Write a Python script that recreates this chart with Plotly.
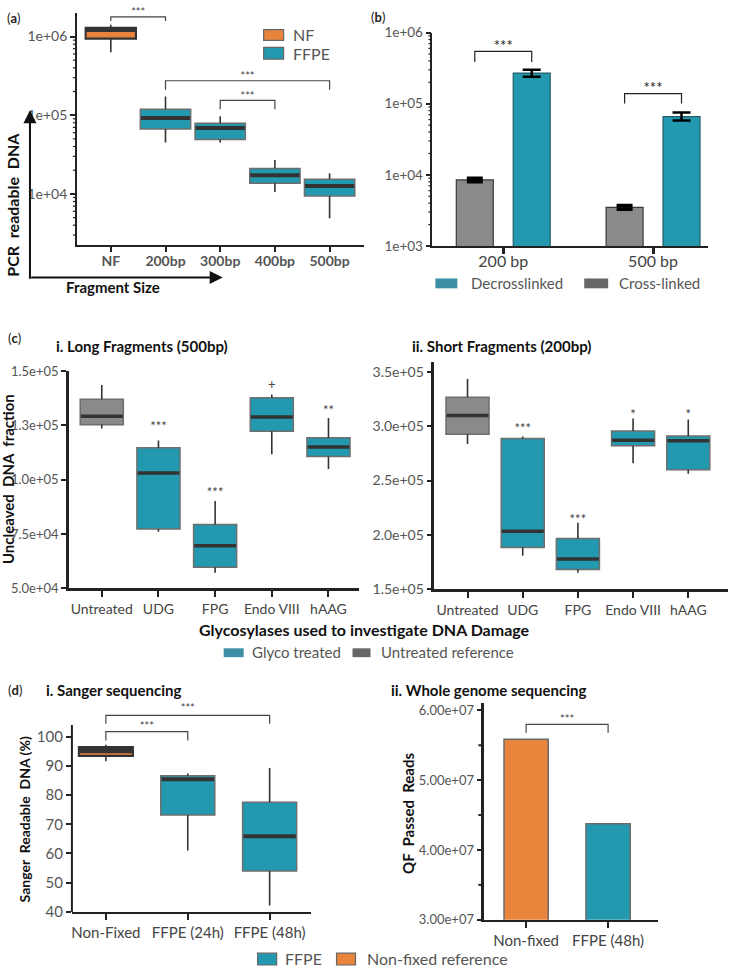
import math
import plotly.graph_objects as go

W, H = 730, 974


def X(p):
    return p / W


def Y(p):
    return 1 - p / H


FONT = "Lato"
TEAL = "#2399b0"
ORANGE = "#e8843c"
GREY = "#8a8a8a"
OUTLINE = "#6e6e6e"
DARK = "#333333"

# ---------------- (a) PCR readable DNA ----------------
a_categories = ["NF", "200bp", "300bp", "400bp", "500bp"]
a_group = ["NF", "FFPE", "FFPE", "FFPE", "FFPE"]
a_q1 = [9.4e5, 6.7e4, 4.9e4, 1.37e4, 9.4e3]
a_median = [1.21e6, 9.2e4, 6.9e4, 1.73e4, 1.26e4]
a_q3 = [1.29e6, 1.19e5, 7.9e4, 2.1e4, 1.54e4]
a_low = [6.3e5, 4.5e4, 4.5e4, 1.06e4, 4.9e3]
a_high = [1.41e6, 1.73e5, 9.7e4, 2.7e4, 1.83e4]
a_yticks = [1e4, 1e5, 1e6]
a_yticklabels = ["1e+04", "1e+05", "1e+06"]
a_sig_from = [0, 1, 2]
a_sig_to = [1, 4, 3]
a_sig_top = [1.78e6, 2.74e5, 1.54e5]
a_sig_foot = [1.58e6, 2.11e5, 1.19e5]
a_sig_text_y = [1.97e6, 3.0e5, 1.7e5]
a_sig_label = ["***", "***", "***"]

# ---------------- (b) cross-linked vs decrosslinked ----------------
b_categories = ["200 bp", "500 bp"]
b_crosslinked = [8.5e3, 3.5e3]
b_crosslinked_err = [500, 220]
b_decrosslinked = [2.7e5, 6.6e4]
b_decross_err_plus = [3.0e4, 9.0e3]
b_decross_err_minus = [3.0e4, 8.0e3]
b_yticks = [1e3, 1e4, 1e5, 1e6]
b_yticklabels = ["1e+03", "1e+04", "1e+05", "1e+06"]
b_sig_top = [5.46e5, 1.39e5]
b_sig_foot = [3.85e5, 1.01e5]
b_sig_text_y = [6.3e5, 1.62e5]
b_sig_label = ["***", "***"]

# ---------------- (c) glycosylases ----------------
c_categories = ["Untreated", "UDG", "FPG", "Endo VIII", "hAAG"]
c_group = ["Untreated", "Glyco", "Glyco", "Glyco", "Glyco"]
c1_q1 = [125300, 77300, 59700, 122300, 110600]
c1_median = [129100, 103000, 69550, 128800, 115000]
c1_q3 = [136950, 114700, 79400, 137700, 119250]
c1_low = [123500, 76000, 57150, 111700, 104900]
c1_high = [143500, 118000, 90150, 139200, 128300]
c1_sig = ["", "***", "***", "+", "**"]
c1_sig_y = [None, 124000, 93500, 143000, 131000]
c1_yticks = [5.0e4, 7.5e4, 1.0e5, 1.25e5, 1.5e5]
c1_yticklabels = ["5.0e+04", "7.5e+04", "1.0e+05", "1.3e+05", "1.5e+05"]

c2_q1 = [292650, 188500, 168200, 282100, 260050]
c2_median = [309850, 203500, 177900, 287200, 286600]
c2_q3 = [326700, 288700, 196650, 295650, 291100]
c2_low = [283600, 180900, 165200, 266050, 256400]
c2_high = [343400, 290500, 211100, 307150, 306250]
c2_sig = ["", "***", "***", "*", "*"]
c2_sig_y = [None, 297000, 213000, 310000, 310000]
c2_yticks = [1.5e5, 2.0e5, 2.5e5, 3.0e5, 3.5e5]
c2_yticklabels = ["1.5e+05", "2.0e+05", "2.5e+05", "3.0e+05", "3.5e+05"]

# ---------------- (d-i) Sanger ----------------
d1_categories = ["Non-Fixed", "FFPE (24h)", "FFPE (48h)"]
d1_group = ["Non-fixed", "FFPE", "FFPE"]
d1_q1 = [93.4, 73.2, 54.0]
d1_median = [95.3, 85.4, 65.9]
d1_q3 = [96.4, 86.6, 77.5]
d1_low = [91.6, 61.0, 42.2]
d1_high = [97.2, 87.4, 89.3]
d1_yticks = [40, 50, 60, 70, 80, 90, 100]
d1_sig_from = [0, 0]
d1_sig_to = [1, 2]
d1_sig_top = [101.7, 107.3]
d1_sig_foot = [98.65, 104.4]
d1_sig_text_y = [103.2, 109.3]
d1_sig_label = ["***", "***"]

# ---------------- (d-ii) WGS ----------------
d2_categories = ["Non-fixed", "FFPE (48h)"]
d2_group = ["Non-fixed", "FFPE"]
d2_reads = [5.587e7, 4.376e7]
d2_yticks = [3e7, 4e7, 5e7, 6e7]
d2_yticklabels = ["3.00e+07", "4.00e+07", "5.00e+07", "6.00e+07"]
d2_minor_ticks = [3.5e7, 4.5e7, 5.5e7]
d2_sig_from = [0]
d2_sig_to = [1]
d2_sig_top = [5.80e7]
d2_sig_foot = [5.68e7]
d2_sig_text_y = [5.86e7]
d2_sig_label = ["***"]

log_minor_ticks = [m * 10 ** e for e in range(3, 7) for m in range(2, 10)]

fill_of = {"NF": ORANGE, "Non-fixed": ORANGE, "FFPE": TEAL, "Glyco": TEAL, "Untreated": GREY}
outline_of = {"NF": DARK, "Non-fixed": DARK, "FFPE": OUTLINE, "Glyco": OUTLINE, "Untreated": OUTLINE}
median_w_of = {"NF": 4, "Non-fixed": 6, "FFPE": 4, "Glyco": 3.5, "Untreated": 3.5}

fig = go.Figure()


def add_boxes(xa, ya, groups, q1, med, q3, lo, hi, width, outline_w=1.5):
    wx, wy = [], []
    for i in range(len(q1)):
        wx += [i, i, None, i, i, None]
        wy += [lo[i], q1[i], None, q3[i], hi[i], None]
    fig.add_trace(go.Scatter(x=wx, y=wy, mode="lines", xaxis=xa, yaxis=ya,
                             line=dict(color=DARK, width=1.6), showlegend=False, hoverinfo="skip"))
    for i in range(len(q1)):
        g = groups[i]
        fig.add_trace(go.Box(x=[i], q1=[q1[i]], median=[med[i]], q3=[q3[i]],
                             lowerfence=[q1[i]], upperfence=[q3[i]], width=width,
                             xaxis=xa, yaxis=ya, fillcolor=fill_of[g],
                             line=dict(color=outline_of[g], width=outline_w + (0.6 if outline_of[g] == DARK else 0)),
                             whiskerwidth=0, boxpoints=False, showlegend=False, hoverinfo="skip"))
        fig.add_trace(go.Scatter(x=[i - width / 2 + 0.01, i + width / 2 - 0.01], y=[med[i], med[i]],
                                 mode="lines", xaxis=xa, yaxis=ya,
                                 line=dict(color=DARK, width=median_w_of[g]),
                                 showlegend=False, hoverinfo="skip"))


def add_brackets(xa, ya, x_from, x_to, top, foot, text_y, labels, size, color):
    bx, by = [], []
    for k in range(len(top)):
        bx += [x_from[k], x_from[k], x_to[k], x_to[k], None]
        by += [foot[k], top[k], top[k], foot[k], None]
    fig.add_trace(go.Scatter(x=bx, y=by, mode="lines", xaxis=xa, yaxis=ya,
                             line=dict(color=color, width=1.2), showlegend=False, hoverinfo="skip"))
    fig.add_trace(go.Scatter(x=[(x_from[k] + x_to[k]) / 2 for k in range(len(top))], y=text_y,
                             mode="text", text=labels, xaxis=xa, yaxis=ya, cliponaxis=False,
                             textfont=dict(family=FONT, size=size, color=color),
                             showlegend=False, hoverinfo="skip"))


# (a)
add_boxes("x", "y", a_group, a_q1, a_median, a_q3, a_low, a_high, 0.92)
add_brackets("x", "y", a_sig_from, a_sig_to, a_sig_top, a_sig_foot, a_sig_text_y, a_sig_label, 11, "#444")

# (b)
b_off, b_w = 0.19, 0.247
fig.add_trace(go.Bar(x=[i - b_off for i in range(len(b_categories))], y=b_crosslinked, width=b_w,
                     xaxis="x2", yaxis="y2", marker=dict(color=GREY, line=dict(color="#3a3a3a", width=1.2)),
                     error_y=dict(type="data", array=b_crosslinked_err, color="black", thickness=3.5, width=8),
                     showlegend=False, hoverinfo="skip"))
fig.add_trace(go.Bar(x=[i + b_off for i in range(len(b_categories))], y=b_decrosslinked, width=b_w,
                     xaxis="x2", yaxis="y2", marker=dict(color=TEAL, line=dict(color="#245c68", width=1.2)),
                     error_y=dict(type="data", array=b_decross_err_plus, arrayminus=b_decross_err_minus,
                                  color="black", thickness=2.5, width=9),
                     showlegend=False, hoverinfo="skip"))
add_brackets("x2", "y2", [i - b_off for i in range(2)], [i + b_off for i in range(2)],
             b_sig_top, b_sig_foot, b_sig_text_y, b_sig_label, 15, "#222")

# (c)
add_boxes("x3", "y3", c_group, c1_q1, c1_median, c1_q3, c1_low, c1_high, 0.76)
fig.add_trace(go.Scatter(x=[i for i in range(5) if c1_sig[i]], y=[c1_sig_y[i] for i in range(5) if c1_sig[i]],
                         text=[s for s in c1_sig if s], mode="text", xaxis="x3", yaxis="y3", cliponaxis=False,
                         textfont=dict(family=FONT, size=13, color="#444"), showlegend=False, hoverinfo="skip"))
add_boxes("x4", "y4", c_group, c2_q1, c2_median, c2_q3, c2_low, c2_high, 0.78)
fig.add_trace(go.Scatter(x=[i for i in range(5) if c2_sig[i]], y=[c2_sig_y[i] for i in range(5) if c2_sig[i]],
                         text=[s for s in c2_sig if s], mode="text", xaxis="x4", yaxis="y4", cliponaxis=False,
                         textfont=dict(family=FONT, size=13, color="#444"), showlegend=False, hoverinfo="skip"))

# (d-i)
add_boxes("x5", "y5", d1_group, d1_q1, d1_median, d1_q3, d1_low, d1_high, 0.66)
add_brackets("x5", "y5", d1_sig_from, d1_sig_to, d1_sig_top, d1_sig_foot, d1_sig_text_y, d1_sig_label, 11, "#444")

# (d-ii)
fig.add_trace(go.Bar(x=list(range(len(d2_reads))), y=d2_reads, width=0.54, xaxis="x6", yaxis="y6",
                     marker=dict(color=[fill_of[g] for g in d2_group], line=dict(color="#6a6a6a", width=1.5)),
                     showlegend=False, hoverinfo="skip"))
add_brackets("x6", "y6", d2_sig_from, d2_sig_to, d2_sig_top, d2_sig_foot, d2_sig_text_y, d2_sig_label, 11, "#444")


def xaxis(dom, rng, ticktext, anchor, tickfont, ticklen=5, tickwidth=1.5, linewidth=1.5, standoff=0):
    return dict(domain=[X(dom[0]), X(dom[1])], range=rng, anchor=anchor,
                tickmode="array", tickvals=list(range(len(ticktext))), ticktext=ticktext,
                showline=True, linecolor="#222", linewidth=linewidth, ticks="outside",
                ticklen=ticklen, tickwidth=tickwidth, tickcolor="#222", showgrid=False, zeroline=False,
                tickfont=tickfont, fixedrange=True, ticklabelstandoff=standoff)


def yaxis(dom, rng, tickvals, ticktext, anchor, tickfont, typ="linear",
          ticklen=5, tickwidth=1.5, linewidth=1.5, showline=True):
    return dict(domain=[Y(dom[1]), Y(dom[0])], range=rng, anchor=anchor, type=typ,
                tickmode="array", tickvals=tickvals, ticktext=ticktext,
                showline=showline, linecolor="#222", linewidth=linewidth, ticks="outside",
                ticklen=ticklen, tickwidth=tickwidth, tickcolor="#222", showgrid=False, zeroline=False,
                tickfont=tickfont, fixedrange=True)


f14 = dict(family=FONT, size=14, color="#555")
f13 = dict(family=FONT, size=13, color="#555")
A_RANGE, B_RANGE, D2_RANGE = [3.35, 6.3], [3, 6], [3e7, 6.1e7]
fig.update_layout(
    xaxis=xaxis((76, 363), [-0.62, 4.62], ["<b>%s</b>" % c for c in a_categories], "y",
                dict(family=FONT, size=14, color="#555"), ticklen=5, standoff=-3),
    yaxis=yaxis((5, 241), A_RANGE, a_yticks, a_yticklabels, "x", f14, typ="log"),
    xaxis2=xaxis((432, 708), [-0.473, 1.367], b_categories, "y2",
                 dict(family=FONT, size=16, color="#444"), ticklen=6, tickwidth=3, standoff=-6),
    yaxis2=yaxis((25, 242), B_RANGE, b_yticks, b_yticklabels, "x2",
                 dict(family=FONT, size=13.5, color="#555"), typ="log"),
    xaxis3=xaxis((68, 358), [-0.58, 4.53], c_categories, "y3",
                 dict(family=FONT, size=14, color="#444"), ticklen=6, tickwidth=2, linewidth=2.5),
    yaxis3=yaxis((369, 590), [5e4, 1.5e5], c1_yticks, c1_yticklabels, "x3", f13,
                 ticklen=5, tickwidth=2, linewidth=2.5),
    xaxis4=xaxis((434, 728), [-0.6, 4.72], c_categories, "y4",
                 dict(family=FONT, size=14, color="#444"), ticklen=6, tickwidth=2, linewidth=2.5),
    yaxis4=yaxis((360, 591), [1.5e5, 3.59e5], c2_yticks, c2_yticklabels, "x4", f14,
                 ticklen=5, tickwidth=2, linewidth=2.5),
    xaxis5=xaxis((71, 310), [-0.415, 2.5], d1_categories, "y5",
                 dict(family=FONT, size=15, color="#444"), ticklen=6, tickwidth=2, linewidth=2),
    yaxis5=yaxis((700, 919), [40, 40 + (919 - 700) / 2.97], d1_yticks, [str(v) for v in d1_yticks], "x5",
                 dict(family=FONT, size=15, color="#555"), ticklen=5, tickwidth=2, showline=False),
    xaxis6=xaxis((484, 658), [-0.51, 1.61], d2_categories, "y6",
                 dict(family=FONT, size=15, color="#444"), ticklen=6, tickwidth=2, linewidth=2),
    yaxis6=yaxis((707, 927), D2_RANGE, d2_yticks, d2_yticklabels, "x6",
                 dict(family=FONT, size=13, color="#555"), ticklen=5, tickwidth=2, linewidth=2.5),
)

shapes = []
ann = []


def minor_ticks(yref, axis_x_px, rng, vals, log=False, length=3, width=1):
    # small outside tick marks on the left of a y axis (axis decoration)
    for v in vals:
        t = math.log10(v) if log else v
        frac = (t - rng[0]) / (rng[1] - rng[0])
        if 0 < frac < 1:
            shapes.append(dict(type="line", xref="paper", yref=yref + " domain",
                               x0=X(axis_x_px - length), x1=X(axis_x_px), y0=frac, y1=frac,
                               line=dict(color="#222", width=width)))


minor_ticks("y", 75.5, A_RANGE, log_minor_ticks, log=True, length=3.5, width=1.2)
minor_ticks("y2", 431.5, B_RANGE, log_minor_ticks, log=True, length=3.5, width=1.2)
minor_ticks("y6", 483, D2_RANGE, d2_minor_ticks, length=5, width=2)


def text(x, y, s, size, color="#111", bold=False, xanchor="left", angle=0):
    ann.append(dict(x=X(x), y=Y(y), xref="paper", yref="paper", showarrow=False,
                    text=("<b>%s</b>" % s) if bold else s, textangle=angle,
                    font=dict(family=FONT, size=size, color=color),
                    xanchor=xanchor, yanchor="middle"))


def rect(x0, y0, x1, y1, fill, line="#6e6e6e", lw=1):
    shapes.append(dict(type="rect", xref="paper", yref="paper", x0=X(x0), x1=X(x1), y0=Y(y1), y1=Y(y0),
                       fillcolor=fill, line=dict(color=line, width=lw)))


def arrow(x_head, y_head, x_tail, y_tail):
    ann.append(dict(x=X(x_head), y=Y(y_head), xref="paper", yref="paper", axref="pixel", ayref="pixel",
                    ax=x_tail - x_head, ay=y_tail - y_head, showarrow=True, arrowhead=2,
                    arrowsize=1.3, arrowwidth=2, arrowcolor="#111", text=""))


# panel letters
text(4, 10, "(<b>a</b>)", 13, "#222")
text(369, 9, "(<b>b</b>)", 13, "#222")
text(5, 336, "(<b>c</b>)", 13, "#222")
text(5, 693, "(<b>d</b>)", 13, "#222")

# (a) decorations
text(12, 200, "PCR  readable  DNA", 16, "#111", bold=True, angle=-90, xanchor="center")
text(112, 284, "Fragment Size", 15, "#111", bold=True, xanchor="center")
arrow(222, 274, 29, 274)
arrow(29, 104, 29, 274)
rect(263, 22, 283, 33, ORANGE, "#666", 1.2)
rect(263, 40, 283, 52, TEAL, "#666", 1.2)
text(290, 27, "NF", 16, "#555")
text(290, 46, "FFPE", 16, "#555")

# (b) legend
rect(435, 275, 457, 285, "#3b8ea3", "#3b8ea3", 0)
text(469, 280, "Decrosslinked", 15, "#555")
rect(584, 275, 608, 285, "#666666", "#666666", 0)
text(617, 280, "Cross-linked", 15, "#555")

# (c) decorations
text(53, 344, "i. Long Fragments (500bp)", 15, "#111", bold=True)
text(410, 344, "ii. Short Fragments (200bp)", 15, "#111", bold=True)
text(7, 479, "Uncleaved  DNA  fraction", 15, "#111", bold=True, angle=-90, xanchor="center")
text(364, 632, "Glycosylases used to investigate DNA Damage", 16, "#111", bold=True, xanchor="center")
rect(223, 651, 243, 660, "#3b8ea3", "#3b8ea3", 0)
text(249, 655, "Glyco treated", 15, "#555")
rect(352, 651, 370, 660, "#666666", "#666666", 0)
text(379, 655, "Untreated reference", 15, "#555")

# (d) decorations
text(43, 693, "i. Sanger sequencing", 15, "#111", bold=True)
text(389, 693, "ii. Whole genome sequencing", 15, "#111", bold=True)
text(23, 825, "Sanger  Readable  DNA (%)", 14, "#111", bold=True, angle=-90, xanchor="center")
text(407, 819, "QF  Passed  Reads", 15, "#111", bold=True, angle=-90, xanchor="center")
shapes.append(dict(type="line", xref="paper", yref="paper", x0=X(71), x1=X(71), y0=Y(729), y1=Y(919),
                   line=dict(color="#222", width=2)))
rect(257, 961, 276, 973, TEAL, "#666", 1.2)
text(282, 966, "FFPE", 16, "#555")
rect(336, 961, 355, 973, ORANGE, "#666", 1.2)
text(364, 966, "Non-fixed reference", 16, "#555")

fig.update_layout(width=W, height=H, margin=dict(l=0, r=0, t=0, b=0),
                  paper_bgcolor="white", plot_bgcolor="white",
                  shapes=shapes, annotations=ann, boxmode="overlay",
                  font=dict(family=FONT))
fig.write_html("out.html", config={"displayModeBar": False},
               post_script="document.body.style.margin='0px';document.body.style.overflow='hidden';")
